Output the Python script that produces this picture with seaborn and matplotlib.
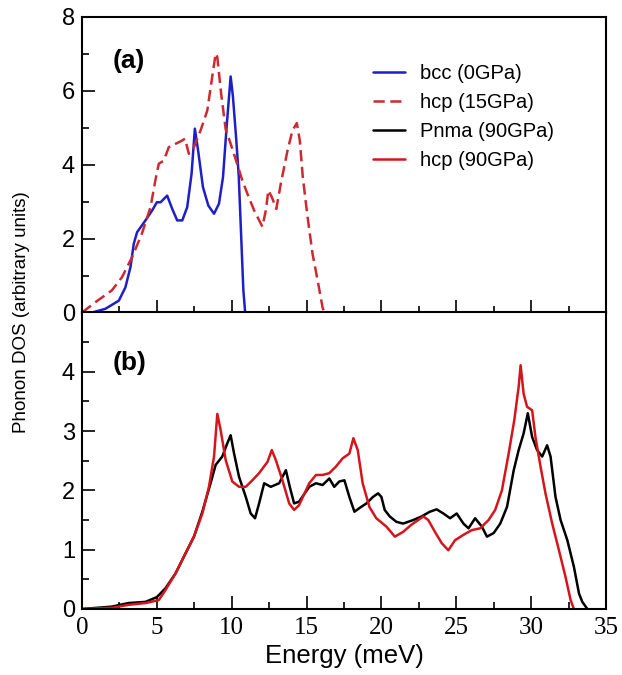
import matplotlib
matplotlib.use("Agg")
import matplotlib.pyplot as plt
from matplotlib.ticker import MultipleLocator
from matplotlib.lines import Line2D
import pandas as pd
import seaborn as sns

# Phonon density of states, panel (a)
bcc_E = [0.67, 1.56, 2.46, 2.9, 3.24, 3.46, 3.68, 4.24, 4.69, 5.0, 5.25, 5.69, 6.03,
         6.36, 6.7, 7.03, 7.32, 7.54, 7.77, 8.08, 8.44, 8.82, 9.15, 9.42, 9.66, 9.93,
         10.08, 10.3, 10.47, 10.62, 10.78, 10.9]
bcc_dos = [0, 0.1, 0.32, 0.68, 1.23, 1.86, 2.17, 2.49, 2.76, 2.98, 2.98, 3.16, 2.8,
           2.49, 2.49, 2.85, 3.75, 4.97, 4.34, 3.39, 2.89, 2.67, 2.94, 3.66, 5.01, 6.38,
           5.85, 4.7, 3.7, 2.2, 0.6, 0]

hcp15_E = [0, 0.9, 2.0, 2.68, 3.35, 4.0, 4.58, 4.9, 5.13, 5.47, 5.8, 6.25, 6.7, 6.88,
           7.14, 7.48, 7.92, 8.37, 8.7, 8.93, 9.04, 9.3, 9.6, 9.9, 10.3, 10.71, 11.05,
           11.5, 12.05, 12.28, 12.45, 12.68, 12.98, 13.28, 13.73, 14.06, 14.35, 14.55,
           14.75, 15.07, 15.4, 15.74, 16.07, 16.18]
hcp15_dos = [0, 0.28, 0.6, 0.96, 1.5, 2.13, 2.85, 3.57, 4.02, 4.11, 4.47, 4.56, 4.65,
             4.7, 4.29, 4.47, 4.92, 5.46, 6.37, 7.0, 6.9, 5.9, 4.95, 4.6, 4.1, 3.57,
             3.21, 2.76, 2.32, 2.76, 3.3, 3.12, 2.8, 3.48, 4.38, 4.92, 5.12, 4.65, 3.66,
             2.58, 1.59, 0.87, 0.14, 0]

# Phonon density of states, panel (b)
pnma_E = [0, 2.0, 3.1, 4.24, 5.0, 5.58, 6.25, 6.92, 7.48, 8.04, 8.59, 8.93, 9.37, 9.7,
          9.93, 10.16, 10.49, 10.94, 11.27, 11.56, 11.83, 12.17, 12.61, 13.17, 13.62,
          13.88, 14.17, 14.5, 15.18, 15.63, 16.07, 16.52, 16.85, 17.19, 17.53, 17.86,
          18.2, 18.64, 19.0, 19.44, 19.78, 20.0, 20.22, 20.56, 21.0, 21.45, 22.13, 22.68,
          23.24, 23.69, 24.14, 24.59, 25.03, 25.48, 25.82, 26.26, 26.71, 27.05, 27.5,
          27.94, 28.39, 28.84, 29.17, 29.5, 29.78, 30.07, 30.4, 30.74, 31.07, 31.3,
          31.63, 31.97, 32.42, 32.86, 33.2, 33.42, 33.76]
pnma_dos = [0, 0.04, 0.1, 0.12, 0.2, 0.35, 0.6, 0.94, 1.22, 1.64, 2.12, 2.43, 2.57,
            2.79, 2.93, 2.62, 2.23, 1.89, 1.61, 1.53, 1.78, 2.12, 2.06, 2.12, 2.34, 2.06,
            1.78, 1.81, 2.06, 2.12, 2.09, 2.2, 2.06, 2.15, 2.17, 1.89, 1.64, 1.72, 1.78,
            1.89, 1.95, 1.89, 1.67, 1.56, 1.47, 1.44, 1.5, 1.56, 1.64, 1.68, 1.61, 1.53,
            1.61, 1.44, 1.36, 1.53, 1.39, 1.22, 1.28, 1.44, 1.72, 2.34, 2.68, 2.96, 3.3,
            2.9, 2.68, 2.57, 2.76, 2.57, 1.89, 1.5, 1.16, 0.71, 0.26, 0.12, 0]

hcp90_E = [0, 2.0, 3.1, 4.24, 5.13, 5.58, 6.25, 6.92, 7.48, 8.04, 8.48, 8.82, 9.04,
           9.26, 9.6, 10.04, 10.49, 10.94, 11.38, 11.83, 12.39, 12.68, 12.95, 13.39,
           13.84, 14.17, 14.5, 15.18, 15.63, 16.07, 16.52, 16.96, 17.41, 17.86, 18.13,
           18.42, 18.75, 19.2, 19.66, 20.33, 20.9, 21.45, 22.0, 22.46, 22.8, 23.13,
           23.58, 24.03, 24.47, 24.92, 25.48, 26.04, 26.6, 27.16, 27.6, 28.05, 28.5,
           28.88, 29.17, 29.3, 29.5, 29.73, 30.07, 30.29, 30.63, 30.96, 31.41, 31.86,
           32.3, 32.64, 32.86]
hcp90_dos = [0, 0.02, 0.07, 0.1, 0.15, 0.32, 0.6, 0.94, 1.22, 1.61, 2.06, 2.57, 3.29,
             3.02, 2.51, 2.15, 2.06, 2.06, 2.17, 2.29, 2.48, 2.68, 2.51, 2.17, 1.78,
             1.67, 1.75, 2.12, 2.26, 2.26, 2.29, 2.4, 2.54, 2.62, 2.88, 2.68, 2.12, 1.72,
             1.53, 1.39, 1.22, 1.3, 1.42, 1.5, 1.56, 1.5, 1.3, 1.11, 0.99, 1.16, 1.25,
             1.33, 1.36, 1.5, 1.67, 2.0, 2.62, 3.19, 3.75, 4.11, 3.63, 3.41, 3.35, 2.9,
             2.4, 1.95, 1.44, 0.99, 0.54, 0.15, 0]

series_labels = ["bcc (0GPa)", "hcp (15GPa)", "Pnma (90GPa)", "hcp (90GPa)"]
panel_labels = ["(a)", "(b)"]

sns.set_style("ticks")
plt.rcParams["font.family"] = ["Liberation Sans", "DejaVu Sans"]
plt.rcParams.update({"text.color": "black", "axes.labelcolor": "black",
                     "xtick.color": "black", "ytick.color": "black",
                     "axes.edgecolor": "black"})

BLUE = "#1f1fc8"
RED_DASH = "#cc2a30"
BLACK = "#000000"
RED = "#d4161c"
LW = 1.8

fig = plt.figure(figsize=(6.22, 6.75), dpi=100)
ax_a = fig.add_axes([0.1318, 0.537, 0.8424, 0.4385])
ax_b = fig.add_axes([0.1318, 0.0978, 0.8424, 0.4393])


def draw(ax, E, dos, color, style):
    df = pd.DataFrame({"E": E, "dos": dos})
    sns.lineplot(data=df, x="E", y="dos", ax=ax, color=color, lw=LW,
                 sort=False, estimator=None)
    ln = ax.lines[-1]
    if style == "dash":
        ln.set_dashes((4.5, 2.2))
    return ln


draw(ax_a, bcc_E, bcc_dos, BLUE, "solid")
draw(ax_a, hcp15_E, hcp15_dos, RED_DASH, "dash")
draw(ax_b, pnma_E, pnma_dos, BLACK, "solid")
draw(ax_b, hcp90_E, hcp90_dos, RED, "solid")

for ax in (ax_a, ax_b):
    ax.set_xlim(0, 35)
    ax.set_xlabel("")
    ax.set_ylabel("")
    for s in ax.spines.values():
        s.set_linewidth(1.5)
        s.set_color("black")
    ax.xaxis.set_major_locator(MultipleLocator(5))
    ax.xaxis.set_minor_locator(MultipleLocator(2.5))
    ax.tick_params(which="both", direction="in", top=False, right=False,
                   width=1.2, color="black", labelcolor="black")
    ax.tick_params(which="major", length=9.5)
    ax.tick_params(which="minor", length=5)
    ax.tick_params(axis="y", which="major", labelsize=17, pad=5)

ax_a.set_ylim(0, 8)
ax_a.yaxis.set_major_locator(MultipleLocator(2))
ax_a.yaxis.set_minor_locator(MultipleLocator(1))
ax_a.tick_params(axis="x", labelbottom=False)

ax_b.set_ylim(0, 5)
ax_b.set_yticks([0, 1, 2, 3, 4])
ax_b.set_yticks([0.5, 1.5, 2.5, 3.5, 4.5], minor=True)
ax_b.tick_params(axis="x", which="major", labelsize=18, pad=6)
for t in ax_b.get_xticklabels():
    t.set_fontfamily(["Liberation Serif", "DejaVu Serif"])

ax_a.text(0.058, 0.85, panel_labels[0], transform=ax_a.transAxes,
          fontsize=19, fontweight="bold", va="center", ha="left", color="black")
ax_b.text(0.058, 0.83, panel_labels[1], transform=ax_b.transAxes,
          fontsize=19, fontweight="bold", va="center", ha="left", color="black")

handles = [Line2D([], [], color=BLUE, lw=LW),
           Line2D([], [], color=RED_DASH, lw=LW, dashes=(4.5, 2.2)),
           Line2D([], [], color=BLACK, lw=LW),
           Line2D([], [], color=RED, lw=LW)]
leg = ax_a.legend(handles, series_labels, loc="upper left",
                  bbox_to_anchor=(0.556, 0.84), frameon=False, fontsize=14.5,
                  handlelength=1.55, handletextpad=0.75, labelspacing=0.5,
                  borderaxespad=0, borderpad=0)
for t in leg.get_texts():
    t.set_color("black")

fig.text(22 / 622, 1 - 312 / 675, "Phonon DOS (arbitrary units)", rotation=90,
         ha="center", va="center", fontsize=13.5, color="black")
fig.text(344 / 622, 1 - 656 / 675, "Energy (meV)", ha="center", va="center",
         fontsize=18.5, color="black")

fig.savefig("out.png", dpi=100)
